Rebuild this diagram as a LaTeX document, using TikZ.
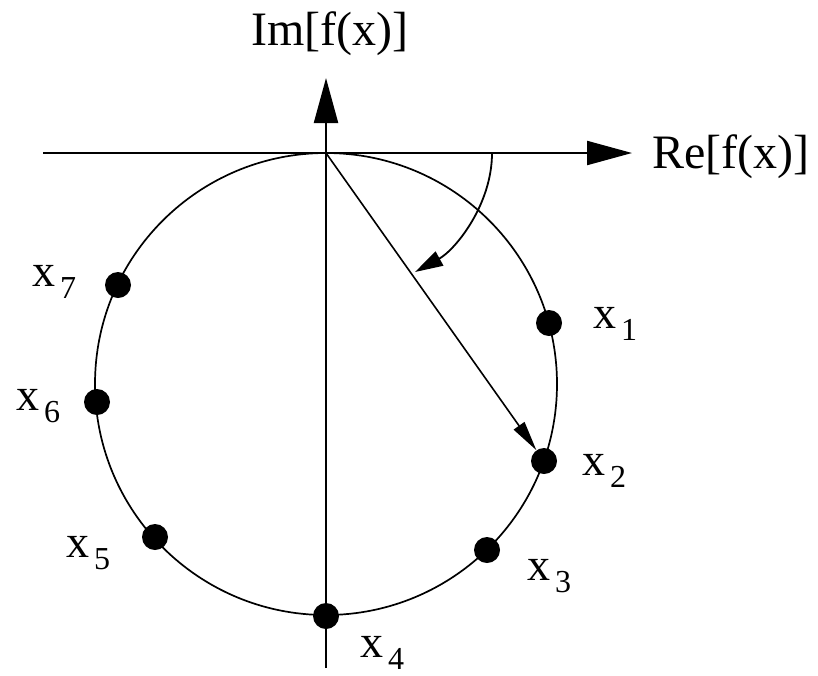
\documentclass[tikz,border=0pt]{standalone}
\usepackage{fontspec}
\setmainfont{Liberation Serif}
\usetikzlibrary{arrows.meta}
\newcommand{\xlab}[1]{x\hspace{5pt}\raisebox{-12pt}{\fontsize{32}{32}\selectfont #1}}
\begin{document}
\begin{tikzpicture}[x=1pt,y=-1pt,
  axis/.style={line width=2.2pt,-{Triangle[length=45pt,width=24pt]}},
  ring/.style={line width=1.7pt},
  dot/.style={circle,fill=black,draw=none,minimum size=26pt,inner sep=0pt},
  ptlab/.style={anchor=base west,inner sep=0pt,font=\fontsize{46}{46}\selectfont},
  axlab/.style={anchor=base,inner sep=0pt,font=\fontsize{48}{48}\selectfont},
  vec/.style={line width=1.6pt,-{Triangle[length=30pt,width=13pt]}},
  turn/.style={line width=1.8pt,-{Triangle[length=28pt,width=16pt]}}]
\useasboundingbox (0,0) rectangle (818,675);
\coordinate (O) at (326,153);
\coordinate (C) at (326,384);
\coordinate (hL) at (43,153);
\coordinate (hR) at (632,153);
\coordinate (vB) at (326,668);
\coordinate (vT) at (326,78);
\coordinate (t0) at (492,153);
\coordinate (t1) at (415,272);
% circle
\draw[ring] (C) circle[radius=231];
% axes
\draw[axis] (hL) -- (hR);
\draw[axis] (vB) -- (vT);
\node[axlab] (im) at (330,45) {Im[f(x)]};
\node[axlab] (re) at (731,168) {Re[f(x)]};
% points
\node[dot] (p1) at (549,323) {};
\node[dot] (p2) at (544,461) {};
\node[dot] (p3) at (487,550) {};
\node[dot] (p4) at (326,616) {};
\node[dot] (p5) at (155,537) {};
\node[dot] (p6) at (97,402) {};
\node[dot] (p7) at (118,285) {};
% vector and rotation arrow
\draw[vec] (O) -- (p2);
\draw[turn] (t0) .. controls (492,205) and (455,250) .. (t1);
% labels
\node[ptlab] (l1) at (593,328) {\xlab{1}};
\node[ptlab] (l2) at (582,475) {\xlab{2}};
\node[ptlab] (l3) at (527,580) {\xlab{3}};
\node[ptlab] (l4) at (360,657) {\xlab{4}};
\node[ptlab] (l5) at (66,557) {\xlab{5}};
\node[ptlab] (l6) at (16,410) {\xlab{6}};
\node[ptlab] (l7) at (32,286) {\xlab{7}};
\end{tikzpicture}
\end{document}
